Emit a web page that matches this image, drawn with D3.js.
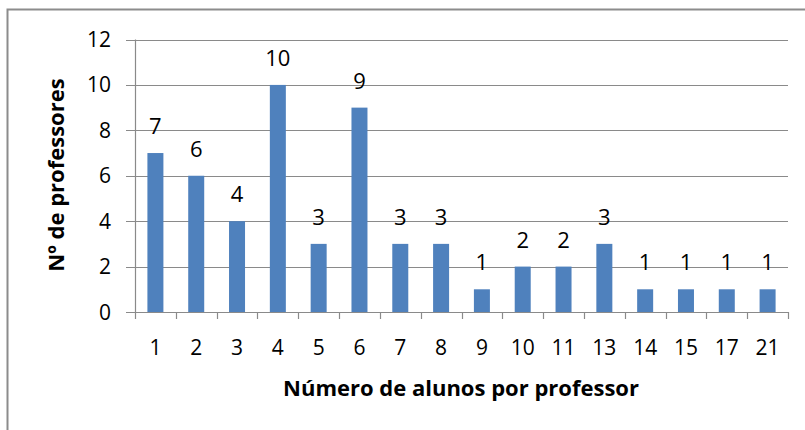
<!DOCTYPE html>
<html>
<head>
<meta charset="utf-8">
<script src="https://cdn.jsdelivr.net/npm/d3@7"></script>
<style>
  body { margin: 0; background: #fff; }
  text { font-family: "Open Sans", Lato, sans-serif; fill: #000; }
</style>
</head>
<body>
<svg id="chart" width="805" height="430"></svg>
<script>
var categories = ['1', '2', '3', '4', '5', '6', '7', '8', '9', '10', '11', '13', '14', '15', '17', '21'];
var professores = [7, 6, 4, 10, 3, 9, 3, 3, 1, 2, 2, 3, 1, 1, 1, 1];
var yTicks = [0, 2, 4, 6, 8, 10, 12];

var svg = d3.select('#chart');

// chart frame (right / bottom edges fall outside the picture)
svg.append('rect')
    .attr('x', 7.5).attr('y', 9.5)
    .attr('width', 820).attr('height', 440)
    .attr('fill', 'none')
    .attr('stroke', '#8c8c8c')
    .attr('stroke-width', 2);

var plotLeft = 135, plotRight = 788, plotTop = 39.5, plotBottom = 312;

var xCat = d3.scaleBand().domain(categories).range([plotLeft, plotRight]);
var y = d3.scaleLinear().domain([0, 12]).range([plotBottom, plotTop]);
var barW = 16;

// gridlines
svg.append('g')
    .selectAll('line')
    .data(yTicks)
    .join('line')
    .attr('x1', plotLeft - 9).attr('x2', plotRight)
    .attr('y1', d => Math.round(y(d)) + 0.5).attr('y2', d => Math.round(y(d)) + 0.5)
    .attr('stroke', '#8a8a8a')
    .attr('stroke-width', 1.2);

// y axis line
svg.append('line')
    .attr('x1', plotLeft + 0.5).attr('x2', plotLeft + 0.5)
    .attr('y1', plotTop).attr('y2', plotBottom)
    .attr('stroke', '#8a8a8a').attr('stroke-width', 1.2);

// x ticks
var xTickPos = categories.map(c => xCat(c)).concat([plotRight]);
svg.append('g')
    .selectAll('line')
    .data(xTickPos)
    .join('line')
    .attr('x1', d => Math.round(d) + 0.5).attr('x2', d => Math.round(d) + 0.5)
    .attr('y1', plotBottom).attr('y2', plotBottom + 7)
    .attr('stroke', '#8a8a8a').attr('stroke-width', 1.2);

// bars
svg.append('g')
    .selectAll('rect')
    .data(professores)
    .join('rect')
    .attr('x', (d, i) => xCat(categories[i]) + xCat.bandwidth() / 2 - barW / 2)
    .attr('y', d => y(d))
    .attr('width', barW)
    .attr('height', d => plotBottom - y(d))
    .attr('fill', '#4f81bd');

// data labels
svg.append('g')
    .selectAll('text')
    .data(professores)
    .join('text')
    .attr('x', (d, i) => xCat(categories[i]) + xCat.bandwidth() / 2)
    .attr('y', d => y(d) - 19)
    .attr('text-anchor', 'middle')
    .attr('font-size', 22)
    .text(d => d);

// y tick labels
svg.append('g')
    .selectAll('text')
    .data(yTicks)
    .join('text')
    .attr('x', 111)
    .attr('y', d => y(d) + 7.5)
    .attr('text-anchor', 'end')
    .attr('font-size', 21)
    .text(d => d);

// x tick labels
svg.append('g')
    .selectAll('text')
    .data(categories)
    .join('text')
    .attr('x', d => xCat(d) + xCat.bandwidth() / 2)
    .attr('y', 355)
    .attr('text-anchor', 'middle')
    .attr('font-size', 21)
    .text(d => d);

// axis titles
svg.append('text')
    .attr('transform', 'translate(64,175) rotate(-90)')
    .attr('text-anchor', 'middle')
    .attr('font-size', 22)
    .attr('font-weight', 'bold')
    .text('Nº de professores');

svg.append('text')
    .attr('x', 461)
    .attr('y', 396)
    .attr('text-anchor', 'middle')
    .attr('font-size', 22)
    .attr('font-weight', 'bold')
    .text('Número de alunos por professor');
</script>
</body>
</html>
